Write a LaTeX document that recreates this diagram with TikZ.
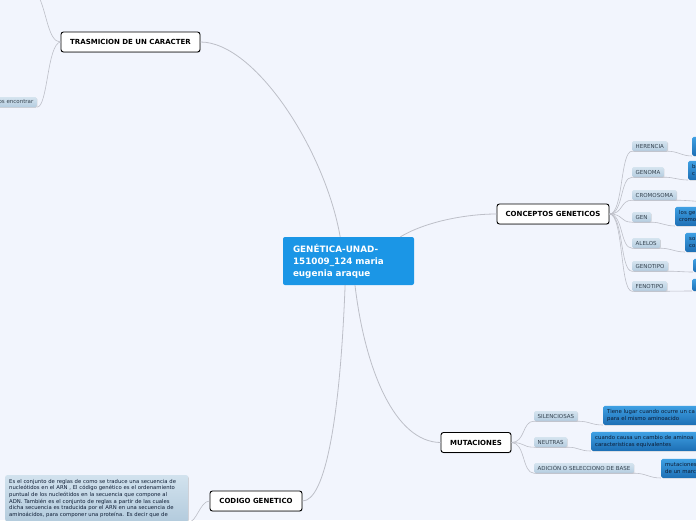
\documentclass[tikz,border=0pt]{standalone}
\usepackage{fontspec}
\setmainfont{DejaVu Sans}
\usetikzlibrary{shadows}
\definecolor{MMBack}{HTML}{F2F5FD}
\definecolor{MMRoot}{HTML}{1B96E6}
\definecolor{MMLine}{HTML}{BDBFC8}
\definecolor{MMLabelTop}{HTML}{D5E4EF}
\definecolor{MMLabelBot}{HTML}{B5CDE0}
\definecolor{MMNoteTop}{HTML}{3FA0E3}
\definecolor{MMNoteBot}{HTML}{1D6FB5}
\definecolor{MMTextTop}{HTML}{D2E2EE}
\definecolor{MMTextBot}{HTML}{B3CBDD}
\definecolor{MMInk}{HTML}{0D1B33}
\definecolor{MMSlate}{HTML}{34424F}
\tikzset{
  mmShadow/.style={
    drop shadow={opacity=0.3, shadow xshift=0.6pt, shadow yshift=-0.8pt}
  },
  mmRoot/.style={
    fill=MMRoot,
    text=white,
    font=\fontsize{8.8pt}{12pt}\selectfont\bfseries,
    align=left,
    text width=111pt,
    inner xsep=10pt,
    minimum width=131pt,
    minimum height=48pt,
    rounded corners=2pt
  },
  mmTopic/.style={
    mmShadow,
    draw=black,
    fill=white,
    line width=0.9pt,
    rounded corners=2.5pt,
    font=\fontsize{7pt}{8pt}\selectfont\bfseries,
    minimum height=20pt,
    inner sep=2pt
  },
  mmLabel/.style={
    mmShadow,
    top color=MMLabelTop,
    bottom color=MMLabelBot,
    rounded corners=1.5pt,
    font=\fontsize{5.5pt}{6.5pt}\selectfont,
    text=MMSlate,
    minimum height=10pt,
    inner xsep=3.5pt,
    inner ysep=0pt,
    anchor=west
  },
  mmNote/.style={
    mmShadow,
    top color=MMNoteTop,
    bottom color=MMNoteBot,
    rounded corners=1.5pt,
    font=\fontsize{5.4pt}{6.8pt}\selectfont,
    text=MMInk,
    align=left,
    text width=120pt,
    inner xsep=4pt,
    inner ysep=2pt,
    minimum height=19pt,
    anchor=south west
  },
  mmText/.style={
    mmShadow,
    top color=MMTextTop,
    bottom color=MMTextBot,
    rounded corners=2pt,
    font=\fontsize{5.3pt}{6.6pt}\selectfont,
    text=MMInk,
    align=left,
    text width=175pt,
    inner xsep=4pt,
    inner ysep=4pt,
    anchor=north west
  },
  mmLink/.style={
    draw=MMLine,
    line width=0.8pt
  },
  mmTwig/.style={
    draw=MMLine,
    line width=0.6pt
  }
}

\begin{document}
\begin{tikzpicture}[x=1pt, y=-1pt]
  \useasboundingbox (0,0) rectangle (696,520);
  \fill [MMBack] (0,0) rectangle (696,520);
  \begin{scope}
    \clip (0,0) rectangle (696,520);

    % centro
    \node (root) [mmRoot] at (348.5,261) {GENÉTICA-UNAD-\\151009\_124 maria\\eugenia araque};

    % temas
    \node (trasm) [mmTopic, minimum width=139pt] at (130.5,42) {TRASMICION DE UN CARACTER};
    \node (concep) [mmTopic, minimum width=112pt] at (553,214) {CONCEPTOS GENETICOS};
    \node (mutac) [mmTopic, minimum width=70pt] at (476,442.5) {MUTACIONES};
    \node (codigo) [mmTopic, minimum width=92pt] at (256,501) {CODIGO GENETICO};

    \draw [mmLink] (root.109) .. controls (325,150) and (255,42) .. (trasm.east);
    \draw [mmLink] (root.25) .. controls (425,222) and (465,214) .. (concep.west);
    \draw [mmLink] (root.285) .. controls (365,370) and (395,442) .. (mutac.west);
    \draw [mmLink] (root.262) .. controls (340,420) and (325,501) .. (codigo.east);

    % trasmicion
    \coordinate (trasmUp) at (38,-5);
    \node (encontrar) [mmLabel, anchor=east] at (37,102) {os encontrar};
    \draw [mmTwig] (trasm.west) .. controls (48,42) and (47,12) .. (trasmUp);
    \draw [mmTwig] (trasm.west) .. controls (47,44) and (48,107) .. (encontrar.south east);

    % conceptos geneticos
    \node (herencia) [mmLabel] at (632,146) {HERENCIA};
    \node (genoma) [mmLabel] at (632,172) {GENOMA};
    \node (cromosoma) [mmLabel] at (632,195) {CROMOSOMA};
    \node (gen) [mmLabel] at (632,217) {GEN};
    \node (alelos) [mmLabel] at (632,243) {ALELOS};
    \node (genotipo) [mmLabel] at (632,266) {GENOTIPO};
    \node (fenotipo) [mmLabel] at (632,286) {FENOTIPO};

    \node (herenciaNote) [mmNote] at (692,156) {};
    \node (genomaNote) [mmNote] at (688,180) {ba\\c};
    \coordinate (cromosomaEnd) at (712,202);
    \node (genNote) [mmNote] at (675,226) {los ge\\cromo};
    \node (alelosNote) [mmNote] at (685,252) {so\\co};
    \node (genotipoNote) [mmNote, minimum height=13pt] at (693,272) {};
    \node (fenotipoNote) [mmNote, minimum height=12pt] at (692,291) {};

    \foreach \n in {herencia,genoma,cromosoma,gen,alelos,genotipo,fenotipo}
      \draw [mmTwig] (concep.east) .. controls +(14,0) and +(-12,0) .. (\n.south west) -- (\n.south east);
    \foreach \n in {herencia,genoma,gen,alelos,genotipo,fenotipo}
      \draw [mmTwig] (\n.south east) .. controls +(10,0) and +(-10,0) .. (\n Note.south west);
    \draw [mmTwig] (cromosoma.south east) .. controls +(10,0) and +(-10,0) .. (cromosomaEnd);

    % mutaciones
    \node (silenciosas) [mmLabel] at (534,416) {SILENCIOSAS};
    \node (neutras) [mmLabel] at (534,442) {NEUTRAS};
    \node (adicion) [mmLabel] at (534,468) {ADICIÓN O SELECCIONO DE BASE};

    \node (silenciosasNote) [mmNote] at (603,425) {Tiene lugar cuando ocurre un ca\\para el mismo aminoacido};
    \node (neutrasNote) [mmNote] at (591,451) {cuando causa un cambio de aminoa\\caracteristicas equivalentes};
    \node (adicionNote) [mmNote] at (661,478) {mutaciones\\de un marc};

    \foreach \n in {silenciosas,neutras,adicion} {
      \draw [mmTwig] (mutac.east) .. controls +(14,0) and +(-12,0) .. (\n.south west) -- (\n.south east);
      \draw [mmTwig] (\n.south east) .. controls +(12,0) and +(-12,0) .. (\n Note.south west);
    }

    % codigo genetico
    \node (codigoNote) [mmText] at (5,475) {Es el conjunto de reglas de como se traduce una secuencia de\\
      nucleótidos en el ARN , El código genético es el ordenamiento\\
      puntual de los nucleótidos en la secuencia que compone al\\
      ADN. También es el conjunto de reglas a partir de las cuales\\
      dicha secuencia es traducida por el ARN en una secuencia de\\
      aminoácidos, para componer una proteína. Es decir que de};
    \draw [mmTwig] (codigo.west) .. controls (200,501) and (196,524) .. (codigoNote.south east);
  \end{scope}
\end{tikzpicture}
\end{document}
